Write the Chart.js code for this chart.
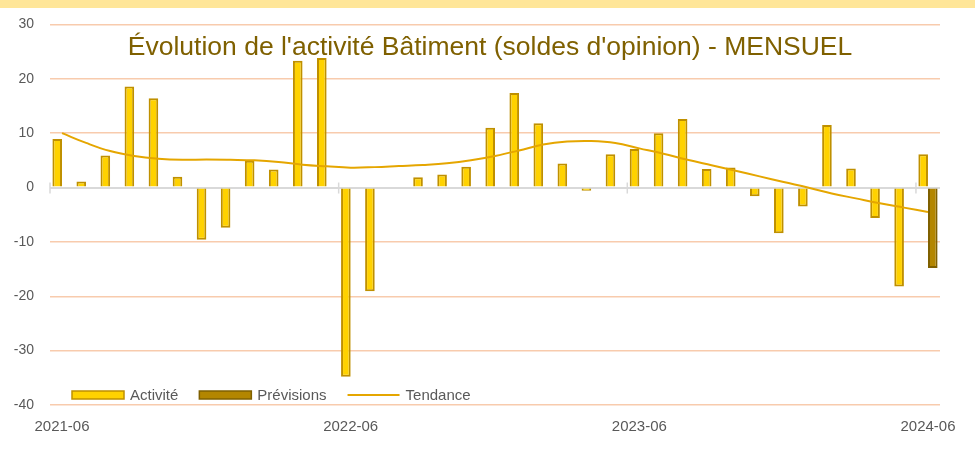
<!DOCTYPE html>
<html lang="fr">
<head>
<meta charset="utf-8">
<title>Activité Bâtiment</title>
<script src="https://cdn.jsdelivr.net/npm/chart.js@4.4.1/dist/chart.umd.min.js"></script>
<style>
  body { margin: 0; background: #fff; }
  .band { position: absolute; top: 0; left: 0; width: 975px; height: 8px; background: #ffe699; }
</style>
</head>
<body>
<div class="band"></div>
<canvas id="batimentChart" width="975" height="454"></canvas>
<script>
const months = [
  "2021-06", "2021-07", "2021-08", "2021-09", "2021-10", "2021-11", "2021-12",
  "2022-01", "2022-02", "2022-03", "2022-04", "2022-05", "2022-06", "2022-07",
  "2022-08", "2022-09", "2022-10", "2022-11", "2022-12", "2023-01", "2023-02",
  "2023-03", "2023-04", "2023-05", "2023-06", "2023-07", "2023-08", "2023-09",
  "2023-10", "2023-11", "2023-12", "2024-01", "2024-02", "2024-03", "2024-04",
  "2024-05", "2024-06",
];

const activite = [
  8.9, 1.1, 5.9, 18.6, 16.4, 2.0, -9.6, -7.4, 4.9, 3.3, 23.3, 23.8,
  -34.8, -19.1, 0.2, 1.9, 2.4, 3.8, 11.0, 17.4, 11.8, 4.4, -0.6, 6.1,
  7.1, 10.0, 12.6, 3.4, 3.7, -1.6, -8.4, -3.5, 11.5, 3.5, -5.6, -18.2,
  6.1,
];

const previsions = [
  null, null, null, null, null, null, null, null, null, null, null, null,
  null, null, null, null, null, null, null, null, null, null, null, null,
  null, null, null, null, null, null, null, null, null, null, null, null,
  -14.8,
];

const tendance = [
  10.0, 8.2, 6.7, 5.8, 5.3, 5.1, 5.15, 5.1, 5.0, 4.7, 4.2, 3.9,
  3.65, 3.75, 3.95, 4.15, 4.45, 5.0, 5.8, 6.8, 7.9, 8.45, 8.55, 8.2,
  7.2, 6.2, 5.1, 4.1, 3.1, 2.05, 1.0, 0.0, -1.1, -2.0, -2.9, -3.7,
  -4.5,
];

const yTicks = [-40, -30, -20, -10, 0, 10, 20, 30];

const titleText = "Évolution de l'activité Bâtiment (soldes d'opinion) - MENSUEL";

// ================= PLUGINS =================
// title sits inside the plot area like the excel original
const insideTitle = {
  id: "insideTitle",
  afterDraw(chart) {
    const ctx = chart.ctx;
    ctx.save();
    ctx.font = '26.5px "Liberation Sans", Arial, sans-serif';
    ctx.fillStyle = "#7f6000";
    ctx.textAlign = "center";
    ctx.textBaseline = "alphabetic";
    ctx.fillText(titleText, 490, 55);
    ctx.restore();
  },
};

// small cross ticks on the zero line, one per year
const zeroTicks = {
  id: "zeroTicks",
  beforeDatasetsDraw(chart) {
    const x = chart.scales.x;
    const y0 = chart.scales.y.getPixelForValue(0);
    const half = (x.getPixelForValue(1) - x.getPixelForValue(0)) / 2;
    const ctx = chart.ctx;
    ctx.save();
    ctx.strokeStyle = "#d9d9d9";
    ctx.lineWidth = 1.5;
    months.forEach((m, i) => {
      if (i % 12 !== 0) return;
      const px = x.getPixelForValue(i) - half;
      ctx.beginPath();
      ctx.moveTo(px, y0 - 5);
      ctx.lineTo(px, y0 + 6);
      ctx.stroke();
    });
    ctx.restore();
  },
};

// legend drawn inside the bottom of the chart area
const insideLegend = {
  id: "insideLegend",
  afterDraw(chart) {
    const ctx = chart.ctx;
    const area = chart.chartArea;
    let x = area.left + 22;
    const cy = area.bottom - 10;
    ctx.save();
    ctx.font = '15px "Liberation Sans", Arial, sans-serif';
    ctx.textBaseline = "middle";
    ctx.textAlign = "left";
    chart.data.datasets.forEach((ds) => {
      if (ds.type === "line") {
        ctx.strokeStyle = ds.borderColor;
        ctx.lineWidth = ds.borderWidth;
        ctx.beginPath();
        ctx.moveTo(x, cy);
        ctx.lineTo(x + 52, cy);
        ctx.stroke();
      } else {
        ctx.fillStyle = ds.backgroundColor;
        ctx.fillRect(x, cy - 4, 52, 8);
        ctx.strokeStyle = ds.borderColor;
        ctx.lineWidth = 1.5;
        ctx.strokeRect(x, cy - 4, 52, 8);
      }
      x += 58;
      ctx.fillStyle = "#595959";
      ctx.fillText(ds.label, x, cy + 1);
      x += ctx.measureText(ds.label).width + 21;
    });
    ctx.restore();
  },
};

// ================= CHART =================
const ctx = document.getElementById("batimentChart");

new Chart(ctx, {
  type: "bar",
  data: {
    labels: months,
    datasets: [
      {
        label: "Activité",
        data: activite,
        backgroundColor: "#ffd200",
        borderColor: "#bf9000",
        borderWidth: 2,
        categoryPercentage: 0.8,
        barPercentage: 1,
        order: 1,
      },
      {
        label: "Prévisions",
        data: previsions,
        backgroundColor: "#b38600",
        borderColor: "#7f6000",
        borderWidth: 2,
        categoryPercentage: 0.8,
        barPercentage: 1,
        order: 1,
      },
      {
        type: "line",
        label: "Tendance",
        data: tendance,
        borderColor: "#e5a600",
        borderWidth: 2,
        pointRadius: 0,
        tension: 0.4,
        fill: false,
        order: 0,
      },
    ],
  },
  options: {
    responsive: false,
    animation: false,
    devicePixelRatio: 1,
    layout: {
      padding: { top: 20, right: 35, left: 0, bottom: 0 },
    },
    plugins: {
      legend: { display: false },
      title: { display: false },
      tooltip: { enabled: false },
    },
    scales: {
      x: {
        grid: { display: false },
        border: { display: false },
        ticks: {
          autoSkip: false,
          maxRotation: 0,
          padding: 5,
          color: "#595959",
          font: { family: '"Liberation Sans", Arial, sans-serif', size: 15 },
          callback: function (value, index) {
            return index % 12 === 0 ? months[index] : "";
          },
        },
        afterFit(scale) {
          scale.height = 49;
        },
      },
      y: {
        min: yTicks[0],
        max: yTicks[yTicks.length - 1],
        border: { display: false },
        grid: {
          drawTicks: false,
          color: (c) => (c.tick && c.tick.value === 0 ? "#d9d9d9" : "#f8cbad"),
          lineWidth: (c) => (c.tick && c.tick.value === 0 ? 2 : 1.5),
        },
        afterBuildTicks(scale) {
          scale.ticks = yTicks.map((v) => ({ value: v }));
        },
        ticks: {
          padding: 16,
          color: "#595959",
          font: { family: '"Liberation Sans", Arial, sans-serif', size: 14 },
        },
        afterFit(scale) {
          scale.width = 50;
        },
      },
    },
  },
  plugins: [zeroTicks, insideTitle, insideLegend],
});
</script>
</body>
</html>
